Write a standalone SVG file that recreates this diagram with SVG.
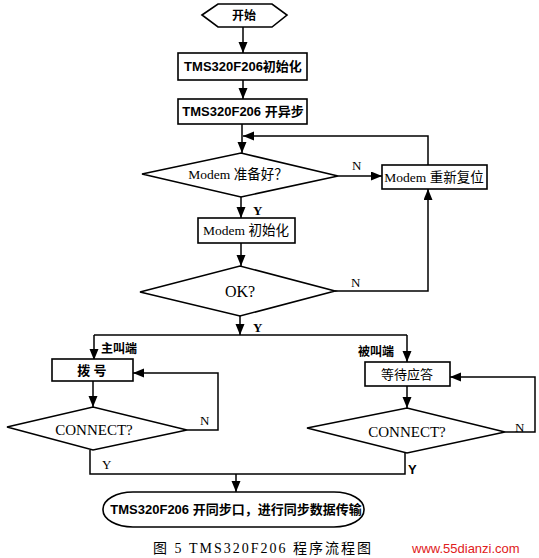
<svg xmlns="http://www.w3.org/2000/svg" width="539" height="558" viewBox="0 0 539 558">
<style>
.shape{fill:#fff;stroke:#000;stroke-width:1.6}
.line{fill:none;stroke:#000;stroke-width:1.5}
.sans{font-family:"Liberation Sans","Noto Sans CJK SC",sans-serif;font-weight:bold;fill:#000}
.serif{font-family:"Liberation Serif","Noto Sans CJK SC",serif;fill:#000}
.c{text-anchor:middle}
</style>
<defs>
<marker id="arr" markerUnits="userSpaceOnUse" markerWidth="12" markerHeight="10" refX="11" refY="4.5" orient="auto">
<path d="M0,0 L11,4.5 L0,9 z" fill="#000"/>
</marker>
</defs>
<rect width="539" height="558" fill="#fff"/>
<g id="connectors">
<path class="line" d="M243,27 V53" marker-end="url(#arr)"/>
<path class="line" d="M243,80 V99" marker-end="url(#arr)"/>
<path class="line" d="M242,124 V153" marker-end="url(#arr)"/>
<path class="line" d="M428,165 V136 H243" marker-end="url(#arr)"/>
<path class="line" d="M338,176 H382" marker-end="url(#arr)"/>
<path class="line" d="M241,197 V218" marker-end="url(#arr)"/>
<path class="line" d="M241,243 V266" marker-end="url(#arr)"/>
<path class="line" d="M335,291 H428 V189" marker-end="url(#arr)"/>
<path class="line" d="M240,316 V335" marker-end="url(#arr)"/>
<path class="line" d="M94,335 H407"/>
<path class="line" d="M94,335 V360" marker-end="url(#arr)"/>
<path class="line" d="M407,335 V362" marker-end="url(#arr)"/>
<path class="line" d="M93,381 V407" marker-end="url(#arr)"/>
<path class="line" d="M187,430 H218 V373 H133" marker-end="url(#arr)"/>
<path class="line" d="M407,386 V408" marker-end="url(#arr)"/>
<path class="line" d="M505,432 H535 V377 H450" marker-end="url(#arr)"/>
<path class="line" d="M90,450 V474 H405 V453"/>
<path class="line" d="M236,474 V492" marker-end="url(#arr)"/>
<text class="serif" x="352" y="170" font-size="13">N</text>
<text class="serif" x="253" y="215" font-size="13" font-weight="bold">Y</text>
<text class="serif" x="351" y="287" font-size="13">N</text>
<text class="serif" x="253" y="332" font-size="13" font-weight="bold">Y</text>
<text class="serif" x="200" y="425" font-size="13">N</text>
<text class="serif" x="515" y="432" font-size="13">N</text>
<text class="serif" x="102" y="469" font-size="13">Y</text>
<text class="sans" x="408" y="474" font-size="13" font-weight="normal">Y</text>
<text class="sans" x="101" y="353" font-size="12">主叫端</text>
<text class="serif" x="358" y="356" font-size="12" font-weight="bold">被叫端</text>
</g>
<g id="start">
<path class="shape" d="M202,15 L218,4 H272 L287,15 L272,27 H218 Z"/>
<text class="sans c" x="244" y="20" font-size="12" font-weight="normal">开始</text>
</g>
<g id="init">
<rect class="shape" x="178" y="53" width="129" height="27"/>
<text class="sans c" x="243" y="71" font-size="13">TMS320F206初始化</text>
</g>
<g id="async">
<rect class="shape" x="178" y="99" width="129" height="25"/>
<text class="sans c" x="243" y="116" font-size="13">TMS320F206 开异步</text>
</g>
<g id="modem-ready">
<path class="shape" d="M142,174 L241,153 L338,176 L241,197 Z"/>
<text class="serif c" x="238" y="179" font-size="13.5">Modem 准备好？</text>
</g>
<g id="modem-reset">
<rect class="shape" x="382" y="165" width="105" height="24"/>
<text class="serif c" x="434" y="182" font-size="13.5">Modem 重新复位</text>
</g>
<g id="modem-init">
<rect class="shape" x="198" y="218" width="97" height="25"/>
<text class="serif c" x="246" y="235" font-size="13.5">Modem 初始化</text>
</g>
<g id="ok">
<path class="shape" d="M140,292 L240,266 L335,291 L240,316 Z"/>
<text class="serif c" x="240" y="297" font-size="16">OK?</text>
</g>
<g id="dial">
<rect class="shape" x="52" y="359" width="81" height="22"/>
<text class="serif c" x="92" y="375" font-size="13" font-weight="bold">拨 号</text>
</g>
<g id="connect-left">
<path class="shape" d="M7,427 L93,407 L187,430 L93,450 Z"/>
<text class="serif c" x="94" y="435" font-size="15">CONNECT?</text>
</g>
<g id="wait">
<rect class="shape" x="365" y="362" width="85" height="24"/>
<text class="serif c" x="407" y="379" font-size="13">等待应答</text>
</g>
<g id="connect-right">
<path class="shape" d="M307,428 L407,408 L505,432 L407,453 Z"/>
<text class="serif c" x="407" y="437" font-size="15">CONNECT?</text>
</g>
<g id="transfer">
<rect class="shape" x="103" y="492" width="261" height="35" rx="30" ry="17"/>
<text class="sans c" x="236" y="514" font-size="13">TMS320F206 开同步口，进行同步数据传输</text>
</g>
<text class="serif" x="153" y="553" font-size="14" letter-spacing="2">图 5  TMS320F206 程序流程图</text>
<text x="412" y="553" font-size="13" font-family="Liberation Sans, sans-serif" fill="#e02020">www.55dianzi.com</text>
</svg>
